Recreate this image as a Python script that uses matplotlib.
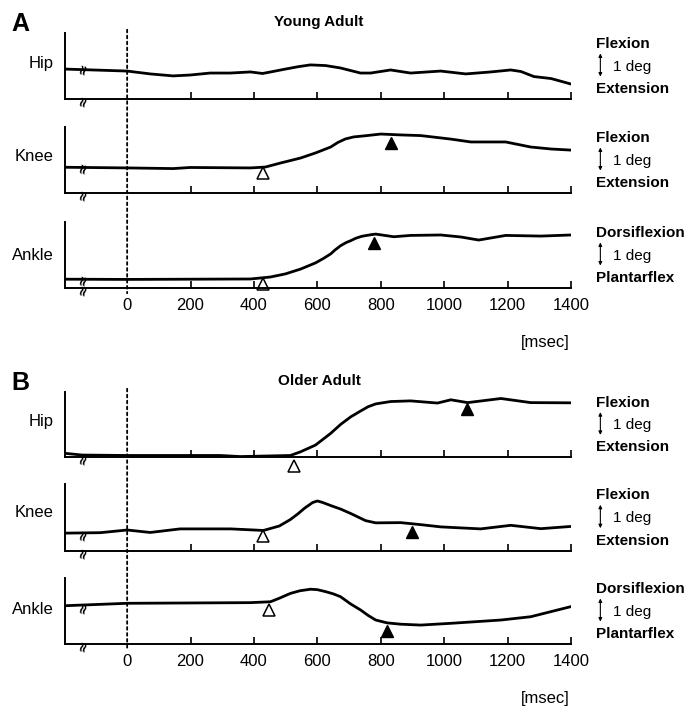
import matplotlib
matplotlib.use("Agg")
import matplotlib.pyplot as plt
from matplotlib.patches import ConnectionPatch

plt.rcParams["font.family"] = ["Liberation Sans", "DejaVu Sans"]

# joint angles (deg, offset from axis bottom) vs time (msec)
# ---- A: young adult
hipA_t = [-196, 0, 73, 145, 199, 262, 325, 389, 427, 460, 499, 540, 578, 626, 673, 736,
          768, 831, 894, 989, 1068, 1147, 1210, 1242, 1283, 1337, 1400]
hipA_y = [1.36, 1.27, 1.14, 1.05, 1.09, 1.18, 1.18, 1.23, 1.16, 1.25, 1.36, 1.47, 1.55,
          1.52, 1.41, 1.18, 1.18, 1.32, 1.18, 1.27, 1.14, 1.23, 1.32, 1.25, 1.02, 0.93,
          0.68]
kneeA_t = [-196, 0, 145, 199, 389, 436, 483, 547, 594, 642, 665, 689, 715, 750, 800, 863,
           926, 1021, 1084, 1194, 1273, 1337, 1400]
kneeA_y = [1.17, 1.14, 1.11, 1.16, 1.14, 1.18, 1.36, 1.59, 1.82, 2.09, 2.30, 2.46, 2.55,
           2.60, 2.68, 2.64, 2.61, 2.45, 2.32, 2.32, 2.09, 2.00, 1.95]
ankleA_t = [-196, 0, 389, 452, 499, 547, 594, 620, 642, 655, 673, 690, 705, 721, 740, 768,
            784, 841, 894, 989, 1052, 1109, 1194, 1305, 1400]
ankleA_y = [0.40, 0.39, 0.41, 0.50, 0.64, 0.86, 1.14, 1.35, 1.55, 1.72, 1.92, 2.06, 2.15,
            2.26, 2.35, 2.42, 2.45, 2.33, 2.39, 2.41, 2.32, 2.18, 2.39, 2.36, 2.41]
# ---- B: older adult
hipB_t = [-196, -142, 0, 294, 357, 452, 515, 547, 594, 642, 673, 705, 736, 760, 784, 831,
          894, 979, 1021, 1074, 1179, 1273, 1400]
hipB_y = [0.17, 0.09, 0.07, 0.07, 0.02, 0.05, 0.07, 0.24, 0.55, 1.09, 1.50, 1.85, 2.12,
          2.32, 2.45, 2.56, 2.59, 2.49, 2.64, 2.51, 2.70, 2.51, 2.50]
kneeB_t = [-196, -85, 0, 73, 167, 326, 430, 480, 515, 540, 560, 585, 600, 615, 645, 673,
           705, 752, 784, 863, 926, 989, 1115, 1210, 1305, 1400]
kneeB_y = [0.80, 0.82, 0.94, 0.83, 0.99, 0.99, 0.92, 1.12, 1.41, 1.68, 1.92, 2.17, 2.24,
           2.18, 2.02, 1.88, 1.68, 1.36, 1.26, 1.27, 1.18, 1.08, 0.99, 1.15, 1.00, 1.10]
ankleB_t = [-196, 0, 389, 452, 480, 515, 545, 578, 600, 626, 650, 673, 705, 736, 760, 784,
            820, 863, 926, 1021, 1179, 1273, 1400]
ankleB_y = [1.74, 1.85, 1.88, 1.92, 2.08, 2.30, 2.42, 2.49, 2.47, 2.38, 2.28, 2.15, 1.82,
            1.55, 1.30, 1.09, 0.96, 0.90, 0.86, 0.94, 1.09, 1.24, 1.70]

# onset (open) and peak (filled) markers: (time, angle)
onsetA = [None, (430, 0.91), (430, 0.18)]
peakA = [None, (831, 2.26), (778, 2.06)]
onsetB = [(525, -0.41), (430, 0.65), (449, 1.55)]
peakB = [(1071, 2.21), (897, 0.83), (820, 0.59)]

joints = ["Hip", "Knee", "Ankle"]
upper = ["Flexion", "Flexion", "Dorsiflexion"]
lower = ["Extension", "Extension", "Plantarflex"]
ticks = [0, 200, 400, 600, 800, 1000, 1200, 1400]

W, H = 688, 707
fig = plt.figure(figsize=(W / 100, H / 100), dpi=100)

def px_axes(top, bottom):
    return fig.add_axes([65 / W, 1 - bottom / H, (571 - 65) / W, (bottom - top) / H])

# pixel extents of each axes (top, bottom)
boxes = {
    "A": [(33, 99), (127, 193), (222, 288)],
    "B": [(392, 457), (484, 551), (578, 644)],
}
series = {
    "A": [(hipA_t, hipA_y), (kneeA_t, kneeA_y), (ankleA_t, ankleA_y)],
    "B": [(hipB_t, hipB_y), (kneeB_t, kneeB_y), (ankleB_t, ankleB_y)],
}
onsets = {"A": onsetA, "B": onsetB}
peaks = {"A": peakA, "B": peakB}
label_y = {"A": [0.54, 0.55, 0.5], "B": [0.54, 0.58, 0.52]}
breaks_curve = {"A": [True, True, True], "B": [False, True, True]}

for panel in ["A", "B"]:
    axes = []
    for i in range(3):
        top, bottom = boxes[panel][i]
        ax = px_axes(top, bottom)
        axes.append(ax)
        t, y = series[panel][i]
        ax.plot(t, y, color="black", lw=2.0, solid_joinstyle="round",
                solid_capstyle="round")
        if onsets[panel][i]:
            ax.plot(*onsets[panel][i], marker="^", ms=9, mfc="white", mec="black",
                    mew=1.1, clip_on=False)
        if peaks[panel][i]:
            ax.plot(*peaks[panel][i], marker="^", ms=8, color="black", clip_on=False)
        ax.set_xlim(-196, 1400)
        ax.set_ylim(0, 3)
        for s in ["top", "right"]:
            ax.spines[s].set_visible(False)
        for s in ["left", "bottom"]:
            ax.spines[s].set_linewidth(1.4)
        ax.set_yticks([])
        ax.set_xticks(ticks)
        ax.tick_params(axis="x", direction="in", length=5, width=1.2, pad=7, labelsize=12)
        ax.xaxis.get_major_ticks()[0].tick1line.set_visible(False)
        if i < 2:
            ax.tick_params(axis="x", labelbottom=False)
        ax.set_ylabel(joints[i], rotation=0, fontsize=12, ha="right", va="center")
        ax.yaxis.set_label_coords(-0.022, label_y[panel][i])
        # axis break marks
        if breaks_curve[panel][i]:
            yc = y[0] if panel == "A" else y[0] - 0.08
            ax.text(-142, yc, "≈", rotation=75, fontsize=10, fontweight="bold",
                    ha="center", va="center", family="DejaVu Sans")
        ax.text(-142, -0.08, "≈", rotation=75, fontsize=10, fontweight="bold",
                ha="center", va="center", family="DejaVu Sans", clip_on=False)
        # right-hand scale labels
        ax.text(1.049, 0.83, upper[i], transform=ax.transAxes, fontsize=11,
                fontweight="bold", ha="left", va="center")
        ax.text(1.083, 0.49, "1 deg", transform=ax.transAxes, fontsize=11,
                ha="left", va="center")
        ax.text(1.049, 0.15, lower[i], transform=ax.transAxes, fontsize=11,
                fontweight="bold", ha="left", va="center")
        ax.annotate("", xy=(1.058, 0.34), xytext=(1.058, 0.69),
                    xycoords="axes fraction", textcoords="axes fraction",
                    arrowprops=dict(arrowstyle="<|-|>", lw=0.8, color="black",
                                    mutation_scale=5, shrinkA=0, shrinkB=0))
    # vertical dotted line at t = 0 running through the three axes
    con = ConnectionPatch(xyA=(0, 1.05), coordsA=axes[0].get_xaxis_transform(),
                          xyB=(0, -0.08), coordsB=axes[2].get_xaxis_transform(),
                          linestyle=(0, (1.5, 1.8)), lw=1.3, color="black")
    fig.add_artist(con)
    axes[2].text(1395, -0.82, "[msec]", transform=axes[2].get_xaxis_transform(),
                 fontsize=12, ha="right", va="center")
    top0 = boxes[panel][0][0]
    fig.text(11 / W, 1 - (top0 - 9) / H, panel, fontsize=18, fontweight="bold",
             ha="left", va="center")
    fig.text(319 / W, 1 - (top0 - 11) / H,
             "Young Adult" if panel == "A" else "Older Adult",
             fontsize=11, fontweight="bold", ha="center", va="center")

fig.savefig("out.png", dpi=100)
